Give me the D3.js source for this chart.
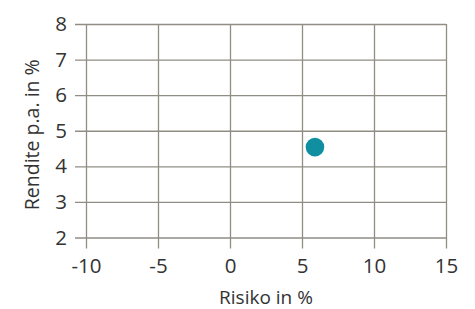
<!DOCTYPE html>
<html><head><meta charset="utf-8">
<script src="https://cdn.jsdelivr.net/npm/d3@7"></script>
<style>body{margin:0;background:#fff}svg{display:block}text{font-family:"Open Sans",sans-serif;fill:#333}</style>
</head><body>
<script>
const xTicks = [-10, -5, 0, 5, 10, 15];
const yTicks = [2, 3, 4, 5, 6, 7, 8];
const riskValues = [5.9];
const returnValues = [4.54];
const xTitle = "Risiko in %";
const yTitle = "Rendite p.a. in %";

const W = 475, H = 309;
const m = {left: 86, right: 29, top: 24, bottom: 71.5};
const svg = d3.select("body").append("svg").attr("width", W).attr("height", H);
const x = d3.scaleLinear().domain([-10, 15]).range([m.left, W - m.right]);
const y = d3.scaleLinear().domain([2, 8]).range([H - m.bottom, m.top]);
const grid = "#8f8d84";
const fmt = d => String(d).replace("\u2212", "-");

const xAxis = svg.append("g").attr("transform", `translate(0,${m.top})`)
  .call(d3.axisBottom(x).tickValues(xTicks).tickFormat(fmt).tickSize(y(2) - m.top + 11).tickPadding(10));
const yAxis = svg.append("g").attr("transform", `translate(${W - m.right},0)`)
  .call(d3.axisLeft(y).tickValues(yTicks).tickFormat(fmt).tickSize(W - m.right - m.left + 11).tickPadding(8));
[xAxis, yAxis].forEach(a => {
  a.select(".domain").remove();
  a.selectAll(".tick line").attr("stroke", grid).attr("stroke-width", 1.3);
  a.selectAll(".tick text").attr("font-size", 20.5).attr("fill", "#333")
   .attr("font-family", '"Open Sans", sans-serif');
});

svg.selectAll("circle.pt").data(riskValues).join("circle").attr("class", "pt")
  .attr("cx", d => x(d)).attr("cy", (d, i) => y(returnValues[i])).attr("r", 9.3)
  .attr("fill", "#0f8fa0");

svg.append("text").attr("x", (m.left + W - m.right) / 2).attr("y", 304)
  .attr("text-anchor", "middle").attr("font-size", 19).text(xTitle);
svg.append("text").attr("transform", `translate(39,${(m.top + H - m.bottom) / 2 + 4}) rotate(-90)`)
  .attr("text-anchor", "middle").attr("font-size", 19.5).text(yTitle);
</script>
</body></html>
